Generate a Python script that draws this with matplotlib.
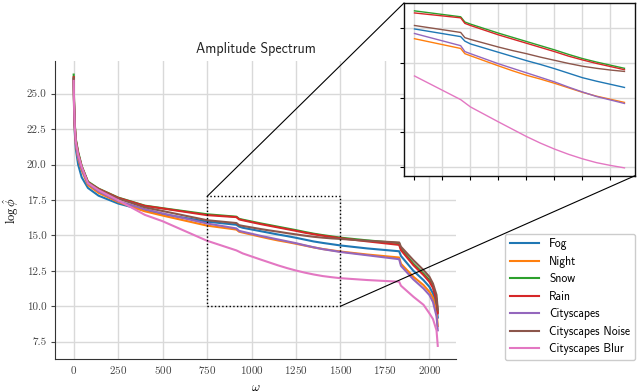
import numpy as np
import matplotlib
matplotlib.use("Agg")
import matplotlib.pyplot as plt
from matplotlib.patches import Rectangle, ConnectionPatch
from matplotlib.ticker import MultipleLocator

plt.rcParams["font.family"] = "cmr10"
plt.rcParams["mathtext.fontset"] = "cm"
plt.rcParams["axes.formatter.use_mathtext"] = True

# frequency positions of the read-off points
omega = np.array([0, 2, 6, 12, 25, 45, 80, 140, 250, 400, 500, 750, 915, 930, 950,
                  1050, 1100, 1150, 1200, 1250, 1300, 1350, 1400, 1450, 1500,
                  1650, 1830, 1840, 1910, 1967, 2000, 2020, 2040, 2047])

fog = [26.05, 24.0, 22.3, 21.1, 20.0, 19.1, 18.35, 17.8, 17.25, 16.75, 16.5, 15.97,
       15.75, 15.62, 15.54, 15.30, 15.18, 15.06, 14.95, 14.83, 14.70, 14.57, 14.47,
       14.38, 14.29, 14.08, 13.88, 13.55, 12.5, 11.84, 11.37, 10.9, 10.0, 9.2]
night = [26.0, 24.0, 22.5, 21.4, 20.4, 19.6, 18.55, 18.0, 17.36, 16.7, 16.4, 15.69,
         15.41, 15.26, 15.20, 14.91, 14.77, 14.64, 14.53, 14.41, 14.28, 14.15, 14.04,
         13.95, 13.86, 13.65, 13.44, 13.0, 12.08, 11.49, 11.02, 10.6, 9.6, 8.6]
snow = [26.35, 24.5, 22.9, 21.8, 20.9, 19.9, 18.8, 18.3, 17.67, 17.1, 16.92, 16.49,
        16.32, 16.17, 16.11, 15.85, 15.73, 15.61, 15.49, 15.37, 15.24, 15.12, 15.02,
        14.93, 14.84, 14.65, 14.45, 14.05, 13.0, 12.3, 11.85, 11.4, 10.5, 9.6]
rain = [26.17, 24.4, 22.8, 21.7, 20.8, 19.85, 18.75, 18.28, 17.65, 17.08, 16.9, 16.43,
        16.29, 16.13, 16.07, 15.80, 15.68, 15.56, 15.44, 15.32, 15.19, 15.08, 14.98,
        14.89, 14.80, 14.58, 14.33, 13.96, 12.9, 12.2, 11.73, 11.3, 10.4, 9.5]
cityscapes = [26.0, 24.2, 22.6, 21.5, 20.5, 19.7, 18.65, 18.1, 17.42, 16.85, 16.55,
              15.84, 15.49, 15.32, 15.26, 14.97, 14.84, 14.71, 14.58, 14.45, 14.30,
              14.16, 14.03, 13.93, 13.83, 13.6, 13.32, 12.85, 11.89, 11.25, 10.79,
              10.3, 9.3, 8.3]
cs_noise = [26.1, 24.4, 22.8, 21.7, 20.8, 19.85, 18.75, 18.25, 17.6, 16.98, 16.72,
            16.07, 15.87, 15.72, 15.67, 15.45, 15.35, 15.26, 15.16, 15.07, 14.98,
            14.90, 14.84, 14.79, 14.75, 14.62, 14.5, 14.2, 13.25, 12.55, 12.08,
            11.6, 10.8, 9.75]
cs_blur = [25.9, 24.3, 22.7, 21.6, 20.7, 19.83, 18.7, 18.19, 17.48, 16.45, 16.0,
           14.62, 13.94, 13.85, 13.73, 13.30, 13.09, 12.88, 12.69, 12.52, 12.37,
           12.24, 12.13, 12.05, 11.98, 11.85, 11.73, 11.45, 10.67, 10.1, 9.5, 9.1,
           8.3, 7.2]

labels = ["Fog", "Night", "Snow", "Rain", "Cityscapes", "Cityscapes Noise",
          "Cityscapes Blur"]
series = [fog, night, snow, rain, cityscapes, cs_noise, cs_blur]

zoom_x = (750, 1500)
zoom_y = (10, 17.75)

fig = plt.figure(figsize=(6.37, 3.91), dpi=100)
ax = fig.add_axes([0.0871, 0.0806, 0.6287, 0.7634])

for lab, y in zip(labels, series):
    ax.plot(omega, y, lw=1.5, label=lab)

ax.grid(True, color="#d9d9d9", lw=1)
ax.set_axisbelow(True)
for s in ["top", "right"]:
    ax.spines[s].set_visible(False)
for s in ["left", "bottom"]:
    ax.spines[s].set_color("#333333")
ax.tick_params(axis="both", labelsize=8, colors="#444444", length=3, width=0.8)
ax.tick_params(axis="x", length=0)
ax.set_xticks(np.arange(0, 2001, 250))
ax.set_yticks(np.arange(7.5, 25.1, 2.5))
ax.yaxis.set_major_formatter(plt.FormatStrFormatter("%.1f"))
ax.set_title("Amplitude Spectrum", family="cmss10", fontsize=10, color="#222222")
ax.set_xlabel(r"$\omega$", fontsize=9)
ax.set_ylabel(r"$\log\hat{\phi}$", fontsize=9)

ax.add_patch(Rectangle((zoom_x[0], zoom_y[0]), zoom_x[1] - zoom_x[0],
                       zoom_y[1] - zoom_y[0], fill=False, ls=":", lw=1,
                       ec="black", zorder=5))

ax.legend(loc="lower right", bbox_to_anchor=(635 / 637, 31 / 391),
          bbox_transform=fig.transFigure, prop={"family": "cmss10", "size": 8.4},
          handlelength=2.5, handletextpad=0.9, labelspacing=0.47, borderaxespad=0,
          edgecolor="#cccccc", framealpha=1)

# inset: slice of the spectrum re-indexed from zero
axins = fig.add_axes([0.6342, 0.5506, 0.3626, 0.4417])
mask = (omega >= zoom_x[0]) & (omega <= zoom_x[1])
for lab, y in zip(labels, series):
    axins.plot(omega[mask] - zoom_x[0], np.array(y)[mask], lw=1)
axins.xaxis.set_major_locator(MultipleLocator(100))
axins.yaxis.set_major_locator(MultipleLocator(1))
axins.grid(True, color="#d9d9d9", lw=1)
axins.set_axisbelow(True)
axins.tick_params(labelleft=False, labelbottom=False, length=3, width=0.8)
for s in axins.spines.values():
    s.set_color("#111111")
    s.set_linewidth(1)

for xa, ya, xb, yb in [(zoom_x[0], zoom_y[1], 0, 1), (zoom_x[1], zoom_y[0], 1, 0)]:
    con = ConnectionPatch(xyA=(xa, ya), coordsA=ax.transData, xyB=(xb, yb),
                          coordsB=axins.transAxes, color="black", lw=0.8)
    fig.add_artist(con)

fig.savefig("out.png", dpi=100)
